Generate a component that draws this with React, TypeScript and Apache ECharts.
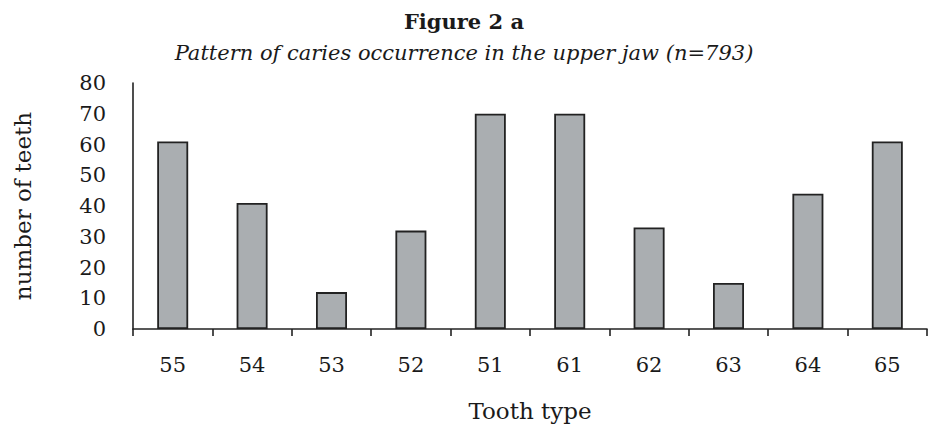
import React, { useEffect, useRef } from "react";
import * as echarts from "echarts";

const titleText = "Figure 2 a";
const subtitleText = "Pattern of caries occurrence in the upper jaw (n=793)";
const toothTypes = ["55", "54", "53", "52", "51", "61", "62", "63", "64", "65"];
const teethCounts = [61, 41, 12, 32, 70, 70, 33, 15, 44, 61];
const yAxisName = "number of teeth";
const xAxisName = "Tooth type";

export default function App() {
  const ref = useRef<HTMLDivElement>(null);
  useEffect(() => {
    if (!ref.current) return;
    const chart = echarts.init(ref.current, null, { renderer: "svg" });
    const serif = "DejaVu Serif";
    chart.setOption({
      animation: false,
      backgroundColor: "#ffffff",
      title: [
        {
          text: titleText,
          left: "center",
          top: 6,
          textStyle: { fontFamily: serif, fontWeight: "bold", fontSize: 21, color: "#1a1a1a" },
        },
        {
          text: subtitleText,
          left: "center",
          top: 37,
          textStyle: { fontFamily: serif, fontStyle: "italic", fontWeight: "normal", fontSize: 21, color: "#1a1a1a" },
        },
      ],
      grid: { left: 133, right: 1, top: 83, bottom: 108, containLabel: false },
      xAxis: {
        type: "category",
        data: toothTypes,
        name: xAxisName,
        nameLocation: "middle",
        nameGap: 70,
        nameTextStyle: { fontFamily: serif, fontSize: 23, color: "#1a1a1a" },
        axisLine: { show: true, lineStyle: { color: "#222", width: 1.6 } },
        axisTick: { show: true, length: 7, lineStyle: { color: "#222", width: 1.6 } },
        axisLabel: { margin: 25, fontFamily: serif, fontSize: 21, color: "#1a1a1a" },
      },
      yAxis: {
        type: "value",
        min: 0,
        max: 80,
        interval: 10,
        name: yAxisName,
        nameLocation: "middle",
        nameGap: 99,
        nameRotate: 90,
        nameTextStyle: { fontFamily: serif, fontSize: 23, color: "#1a1a1a" },
        axisLine: { show: true, lineStyle: { color: "#222", width: 1.6 } },
        axisTick: { show: false },
        splitLine: { show: false },
        axisLabel: { margin: 27, fontFamily: serif, fontSize: 21, color: "#1a1a1a" },
      },
      series: [
        {
          type: "bar",
          data: teethCounts,
          barWidth: 31,
          itemStyle: { color: "#aaaeb1", borderColor: "#222", borderWidth: 1.8 },
        },
      ],
    });
    return () => chart.dispose();
  }, []);
  return (
    <div
      ref={ref}
      style={{ position: "fixed", left: 0, top: 0, width: 928, height: 437 }}
    />
  );
}
